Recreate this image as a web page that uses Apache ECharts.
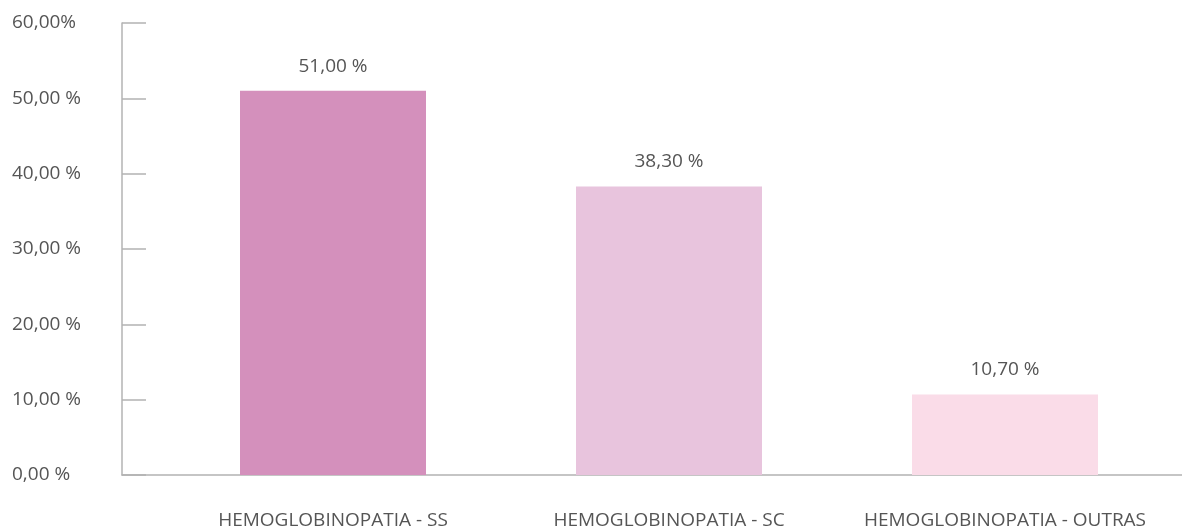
<!DOCTYPE html>
<html>
<head>
<meta charset="utf-8">
<script src="https://cdn.jsdelivr.net/npm/echarts@6/dist/echarts.min.js"></script>
<style>
  html, body { margin: 0; padding: 0; background: #fff; }
  #chart { width: 1182px; height: 531px; }
</style>
</head>
<body>
<div id="chart"></div>
<script>
// dados
var categories = ["HEMOGLOBINOPATIA - SS", "HEMOGLOBINOPATIA - SC", "HEMOGLOBINOPATIA - OUTRAS"];
var values = [51.0, 38.3, 10.7];
var barColors = ["#d490bc", "#e8c4dd", "#fadce8"];
var yTickLabels = ["0,00 %", "10,00 %", "20,00 %", "30,00 %", "40,00 %", "50,00 %", "60,00%"];

var textColor = "#555555";
var lineColor = "#b3b3b3";
var font = "'Open Sans', 'Noto Sans', sans-serif";

function fmt(v) {
  return v.toFixed(2).replace(".", ",") + " %";
}

var chart = echarts.init(document.getElementById("chart"));
chart.setOption({
  animation: false,
  textStyle: { fontFamily: font },
  grid: [
    { left: 122, right: 0, top: 23, bottom: 56 },
    { left: 165, right: 9, top: 23, bottom: 56 }
  ],
  xAxis: [
    {
      gridIndex: 0,
      type: "value",
      min: 0,
      max: 1,
      axisLine: { show: true, lineStyle: { color: lineColor, width: 1.5 } },
      axisTick: { show: false },
      axisLabel: { show: false },
      splitLine: { show: false }
    },
    {
      gridIndex: 1,
      type: "category",
      data: categories,
      axisLine: { show: false },
      axisTick: { show: false },
      axisLabel: {
        interval: 0,
        hideOverlap: false,
        margin: 36,
        color: textColor,
        fontSize: 19,
        fontFamily: font
      }
    }
  ],
  yAxis: [
    {
      gridIndex: 0,
      type: "value",
      min: 0,
      max: 60,
      interval: 10,
      axisLine: { show: true, lineStyle: { color: lineColor, width: 1.5 } },
      axisTick: { show: true, inside: true, length: 24, lineStyle: { color: lineColor, width: 1.5 } },
      axisLabel: {
        align: "left",
        margin: 110,
        color: textColor,
        fontSize: 19,
        fontFamily: font,
        formatter: function (v) { return yTickLabels[Math.round(v / 10)]; }
      },
      splitLine: { show: false }
    },
    {
      gridIndex: 1,
      type: "value",
      min: 0,
      max: 60,
      show: false
    }
  ],
  series: [
    {
      type: "bar",
      xAxisIndex: 1,
      yAxisIndex: 1,
      barWidth: 186,
      data: values.map(function (v, i) {
        return { value: v, itemStyle: { color: barColors[i] } };
      }),
      label: {
        show: true,
        position: "top",
        distance: 15,
        color: textColor,
        fontSize: 19,
        fontFamily: font,
        formatter: function (p) { return fmt(p.value); }
      }
    }
  ]
});
</script>
</body>
</html>
